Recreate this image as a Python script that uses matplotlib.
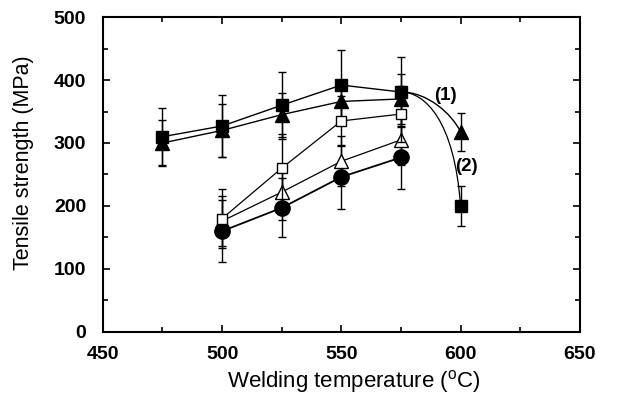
import matplotlib
matplotlib.use("Agg")
import matplotlib.pyplot as plt
from matplotlib.path import Path
from matplotlib.patches import PathPatch
from matplotlib.ticker import MultipleLocator

plt.rcParams['font.family'] = ['Liberation Sans', 'DejaVu Sans']

# Data
temp_a = [475, 500, 525, 550, 575]
temp_b = [500, 525, 550, 575]
temp_end = 600

sq_filled = [310, 327, 360, 392, 381]
sq_filled_err = [45, 50, 53, 56, 56]
sq_filled_end = 200
sq_filled_end_err = 32

tri_filled = [300, 320, 345, 366, 370]
tri_filled_err = [37, 42, 35, 34, 40]
tri_filled_end = 318
tri_filled_end_err = 30

sq_open = [180, 260, 335, 346]
sq_open_err = [47, 55, 40, 45]

tri_open = [176, 222, 271, 305]
tri_open_err = [40, 45, 40, 40]

circ = [160, 197, 246, 277]
circ_err = [49, 47, 51, 50]

fig = plt.figure(figsize=(6.35, 3.97), dpi=100)
ax = fig.add_axes([0.162, 0.164, 0.751, 0.793])

ekw = dict(ecolor='black', elinewidth=1.0, capsize=3, capthick=1.0)

ax.errorbar(temp_a, sq_filled, yerr=sq_filled_err, fmt='s-', color='black',
            mfc='black', mec='black', ms=8.5, lw=1.0, zorder=3, **ekw)
ax.errorbar(temp_a, tri_filled, yerr=tri_filled_err, fmt='^-', color='black',
            mfc='black', mec='black', ms=10, lw=1.0, zorder=3, **ekw)
ax.errorbar([temp_end], [sq_filled_end], yerr=[sq_filled_end_err], fmt='s',
            color='black', ms=8.5, zorder=3, **ekw)
ax.errorbar([temp_end], [tri_filled_end], yerr=[tri_filled_end_err], fmt='^',
            color='black', ms=10, zorder=3, **ekw)
ax.errorbar(temp_b, sq_open, yerr=sq_open_err, fmt='s-', color='black',
            mfc='white', mec='black', ms=7, lw=0.9, mew=1.0, zorder=4, **ekw)
ax.errorbar(temp_b, tri_open, yerr=tri_open_err, fmt='^-', color='black',
            mfc='white', mec='black', ms=10, lw=0.9, mew=1.0, zorder=3, **ekw)
ax.errorbar(temp_b, circ, yerr=circ_err, fmt='o-', color='black',
            mfc='black', mec='black', ms=11, lw=1.3, zorder=3, **ekw)

# Smooth curves from 575 to 600
def curve(x0, y0, x1, y1, a, b, c):
    dx = x1 - x0
    dy = y0 - y1
    verts = [(x0, y0), (x0 + dx * a, y0),
             (x0 + dx * b, y0 - dy * c), (x1, y1)]
    return Path(verts, [Path.MOVETO, Path.CURVE4, Path.CURVE4, Path.CURVE4])

ax.add_patch(PathPatch(curve(temp_a[-1], sq_filled[-1], temp_end, tri_filled_end, 0.45, 0.85, 0.55),
                       fc='none', ec='black', lw=1.0, zorder=2))
ax.add_patch(PathPatch(curve(temp_a[-1], sq_filled[-1], temp_end, sq_filled_end, 0.4, 0.9, 0.25),
                       fc='none', ec='black', lw=0.9, zorder=2))

ax.text(593.8, 376, '(1)', fontsize=13.5, fontweight='bold', ha='center', va='center')
ax.text(602.4, 262, '(2)', fontsize=13.5, fontweight='bold', ha='center', va='center')

ax.set_xlim(450, 650)
ax.set_ylim(0, 500)
ax.xaxis.set_major_locator(MultipleLocator(50))
ax.xaxis.set_minor_locator(MultipleLocator(25))
ax.yaxis.set_major_locator(MultipleLocator(100))
ax.yaxis.set_minor_locator(MultipleLocator(50))
ax.tick_params(which='both', direction='in', top=True, right=True, width=1.2)
ax.tick_params(which='major', length=5, labelsize=14)
ax.tick_params(axis='y', which='major', pad=12)
ax.tick_params(axis='x', which='major', pad=10)
ax.tick_params(which='minor', length=3.5)
for lab in ax.get_xticklabels() + ax.get_yticklabels():
    lab.set_fontweight('bold')
for s in ax.spines.values():
    s.set_linewidth(1.5)

ax.set_xlabel('Welding temperature ($\\mathregular{^{o}}$C)', fontsize=16)
ax.set_ylabel('Tensile strength (MPa)', fontsize=15.5)
ax.xaxis.set_label_coords(0.526, -0.114)
ax.yaxis.set_label_coords(-0.145, 0.537)

fig.savefig('out.png', dpi=100)
